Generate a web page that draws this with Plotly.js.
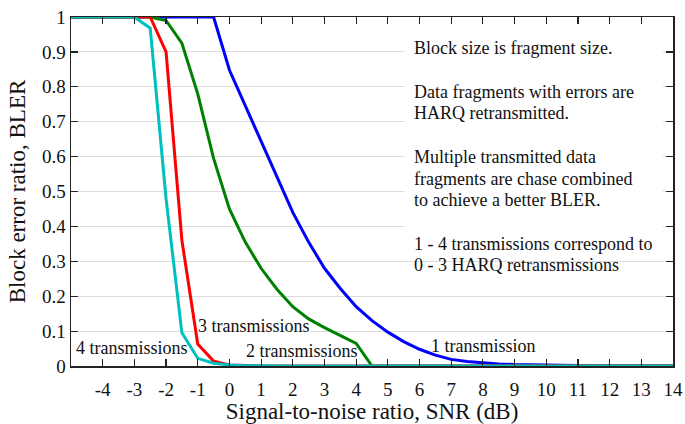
<!DOCTYPE html>
<html>
<head>
<meta charset="utf-8">
<script src="https://cdn.plot.ly/plotly-3.0.1.min.js"></script>
<style>html,body{margin:0;padding:0;background:#fff;}#chart{width:685px;height:424px;}</style>
</head>
<body>
<div id="chart"></div>
<script>
const snr = [-5,-4.5,-4,-3.5,-3,-2.5,-2,-1.5,-1,-0.5,0,0.5,1,1.5,2,2.5,3,3.5,4,4.5,5,5.5,6,6.5,7,7.5,8,8.5,9,9.5,10,10.5,11,11.5,12,12.5,13,13.5,14];
const bler1 = [1,1,1,1,1,1,1,1,1,1,0.848,0.745,0.645,0.54,0.44,0.355,0.28,0.222,0.17,0.13,0.097,0.07,0.048,0.031,0.019,0.013,0.009,0.006,0.004,0.003,0.002,0.0015,0.001,0.0005,0,0,0,0,0];
const bler2 = [1,1,1,1,1,1,0.99,0.925,0.78,0.595,0.45,0.355,0.28,0.22,0.17,0.135,0.11,0.087,0.065,0,0,0,0,0,0,0,0,0,0,0,0,0,0,0,0,0,0,0,0];
const bler3 = [1,1,1,1,1,1,0.90,0.36,0.063,0.014,0.003,0.001,0,0,0,0,0,0,0,0,0,0,0,0,0,0,0,0,0,0,0,0,0,0,0,0,0,0,0];
const bler4 = [1,1,1,1,1,0.968,0.48,0.095,0.022,0.008,0.003,0.001,0,0,0,0,0,0,0,0,0,0,0,0,0,0,0,0,0,0,0,0,0,0,0,0,0,0,0];
const seriesNames = ['1 transmission','2 transmissions','3 transmissions','4 transmissions'];
const seriesColors = ['#0000ff','#008000','#ff0000','#00bfbf'];
const xTickVals = [-4,-3,-2,-1,0,1,2,3,4,5,6,7,8,9,10,11,12,13,14];
const xTickText = ['-4','-3','-2','-1','0','1','2','3','4','5','6','7','8','9','10','11','12','13','14'];
const yTickVals = [0,0.1,0.2,0.3,0.4,0.5,0.6,0.7,0.8,0.9,1];
const yTickText = ['0','0.1','0.2','0.3','0.4','0.5','0.6','0.7','0.8','0.9','1'];
const noteLines = ['Block size is fragment size.','','Data fragments with errors are','HARQ retransmitted.','','Multiple transmitted data','fragments are chase combined','to achieve a better BLER.','','1 - 4 transmissions correspond to','0 - 3 HARQ retransmissions'];

const series = [bler1, bler2, bler3, bler4];
const traces = series.map((y, i) => ({
  x: snr, y: y, type: 'scatter', mode: 'lines', name: seriesNames[i],
  line: {color: seriesColors[i], width: 3}, cliponaxis: false, hoverinfo: 'skip'
}));

const font = 'Liberation Serif';
const txt = '#111';
// note block placement (paper fractions of plot height)
const plotH = 349, plotTop = 17;
const noteTopPx = 48.3, noteStepPx = 21.7;
const noteAnns = [];
noteLines.forEach((line, i) => {
  if (!line) return;
  const ypx = noteTopPx + i * noteStepPx;
  noteAnns.push({x: 5.76, y: 1 - (ypx - plotTop) / plotH, xref: 'x', yref: 'paper',
    xanchor: 'left', yanchor: 'middle', showarrow: false, text: line,
    font: {family: font, size: 18, color: txt}});
});
const labelPos = [[8.02, 0.058], [2.3, 0.044], [0.76, 0.115], [-3.08, 0.051]];
const labelAnns = seriesNames.map((n, i) => ({x: labelPos[i][0], y: labelPos[i][1], xref: 'x', yref: 'y',
  showarrow: false, text: n, font: {family: font, size: 18, color: txt}}));

const layout = {
  width: 685, height: 424,
  margin: {l: 71, r: 12, t: 17, b: 58},
  paper_bgcolor: '#fff', plot_bgcolor: '#fff',
  showlegend: false,
  font: {family: font, color: txt, size: 18},
  xaxis: {
    range: [-5, 14], tickvals: xTickVals, ticktext: xTickText,
    ticks: 'inside', ticklen: 7, tickcolor: '#222', tickwidth: 1.2,
    showline: true, linecolor: '#222', linewidth: 1.5, mirror: 'ticks',
    showgrid: false, zeroline: false, ticklabelstandoff: 6,
    tickfont: {family: font, size: 19, color: txt},
    title: {text: 'Signal-to-noise ratio, SNR (dB)', font: {family: font, size: 23, color: txt}, standoff: 3}
  },
  yaxis: {
    range: [0, 1], tickvals: yTickVals, ticktext: yTickText,
    ticks: 'inside', ticklen: 7, tickcolor: '#222', tickwidth: 1.2,
    showline: true, linecolor: '#222', linewidth: 1.5, mirror: 'ticks',
    showgrid: true, gridcolor: '#dcdcdc', gridwidth: 1, zeroline: false,
    tickfont: {family: font, size: 19, color: txt},
    title: {text: 'Block error ratio, BLER', font: {family: font, size: 23, color: txt}, standoff: 10}
  },
  shapes: [
    {type: 'rect', xref: 'x', yref: 'y', x0: 5.53, x1: 13.68, y0: 0.35, y1: 0.995,
     fillcolor: '#fff', line: {width: 0}, layer: 'between'},
    {type: 'rect', xref: 'x', yref: 'y', x0: -1.0, x1: 2.56, y0: 0.095, y1: 0.13,
     fillcolor: '#fff', line: {width: 0}, layer: 'between'}
  ],
  annotations: noteAnns.concat(labelAnns)
};
Plotly.newPlot('chart', traces, layout, {displayModeBar: false, staticPlot: true});
</script>
</body>
</html>
